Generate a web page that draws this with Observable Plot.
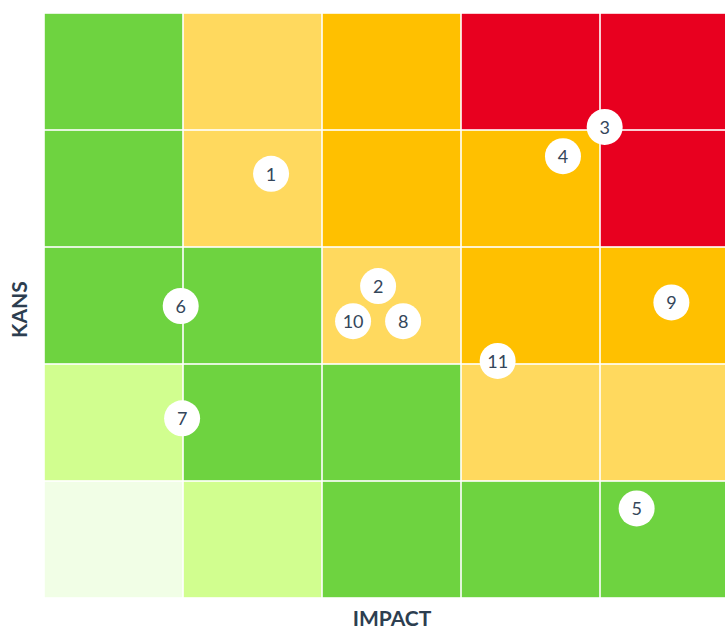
<!DOCTYPE html>
<html>
<head>
<meta charset="utf-8">
<script src="https://cdn.jsdelivr.net/npm/d3@7"></script>
<script src="https://cdn.jsdelivr.net/npm/@observablehq/plot@0.6"></script>
<style>
  html, body { margin: 0; padding: 0; background: #fff; overflow: hidden; }
  #chart { width: 725px; height: 628px; overflow: hidden; }
  #chart svg { font-family: Lato, "Open Sans", sans-serif; max-width: none !important; width: 739px !important; height: 628px !important; }
</style>
</head>
<body>
<div id="chart"></div>
<script>
// Axis categories
const impactLevels = [1, 2, 3, 4, 5];
const kansLevels = [5, 4, 3, 2, 1]; // top to bottom

// Risk level per cell, rows from top (kans 5) to bottom (kans 1), columns impact 1..5
const riskRow5 = ["laag", "middel", "hoog", "kritiek", "kritiek"];
const riskRow4 = ["laag", "middel", "hoog", "hoog", "kritiek"];
const riskRow3 = ["laag", "laag", "middel", "hoog", "hoog"];
const riskRow2 = ["zeer laag", "laag", "laag", "middel", "middel"];
const riskRow1 = ["minimaal", "zeer laag", "laag", "laag", "laag"];

const riskNames = ["minimaal", "zeer laag", "laag", "middel", "hoog", "kritiek"];
const riskColors = ["#f1fee6", "#d1fe8f", "#6ed340", "#ffd95e", "#ffc000", "#e8001f"];

// Numbered risks
const riskIds = ["1", "2", "3", "4", "5", "6", "7", "8", "9", "10", "11"];
const riskImpact = [2.13, 2.90, 4.53, 4.23, 4.76, 1.48, 1.49, 3.08, 5.01, 2.72, 3.76];
const riskKans = [4.13, 3.17, 4.53, 4.28, 1.27, 3.00, 2.04, 2.87, 3.03, 2.87, 2.53];

const rows = [riskRow5, riskRow4, riskRow3, riskRow2, riskRow1];
const cells = [];
rows.forEach((row, i) => {
  row.forEach((level, j) => {
    cells.push({impact: impactLevels[j], kans: kansLevels[i], level});
  });
});
const points = riskIds.map((id, i) => ({id, impact: riskImpact[i], kans: riskKans[i]}));

const textColor = "#2d3e50";

const chart = Plot.plot({
  width: 739,
  height: 628,
  marginLeft: 44,
  marginRight: 0,
  marginTop: 13,
  marginBottom: 30,
  x: {domain: [0.5, 5.5], axis: null},
  y: {domain: [0.5, 5.5], axis: null},
  color: {domain: riskNames, range: riskColors},
  marks: [
    Plot.rect(cells, {
      x1: d => d.impact - 0.5, x2: d => d.impact + 0.5,
      y1: d => d.kans - 0.5, y2: d => d.kans + 0.5,
      fill: "level", inset: 0.8
    }),
    Plot.dot(points, {x: "impact", y: "kans", r: 18, fill: "white", stroke: "none"}),
    Plot.text(points, {x: "impact", y: "kans", text: "id", fill: "#34465a", fontSize: 18, dy: 1}),
    Plot.text(["IMPACT"], {frameAnchor: "bottom", dy: 27, text: d => d, fill: textColor, fontSize: 21, fontWeight: "bold"}),
    Plot.text(["KANS"], {frameAnchor: "left", dx: -24, dy: 32, rotate: -90, text: d => d, fill: textColor, fontSize: 21, fontWeight: "bold"})
  ]
});
document.getElementById("chart").appendChild(chart);
</script>
</body>
</html>
